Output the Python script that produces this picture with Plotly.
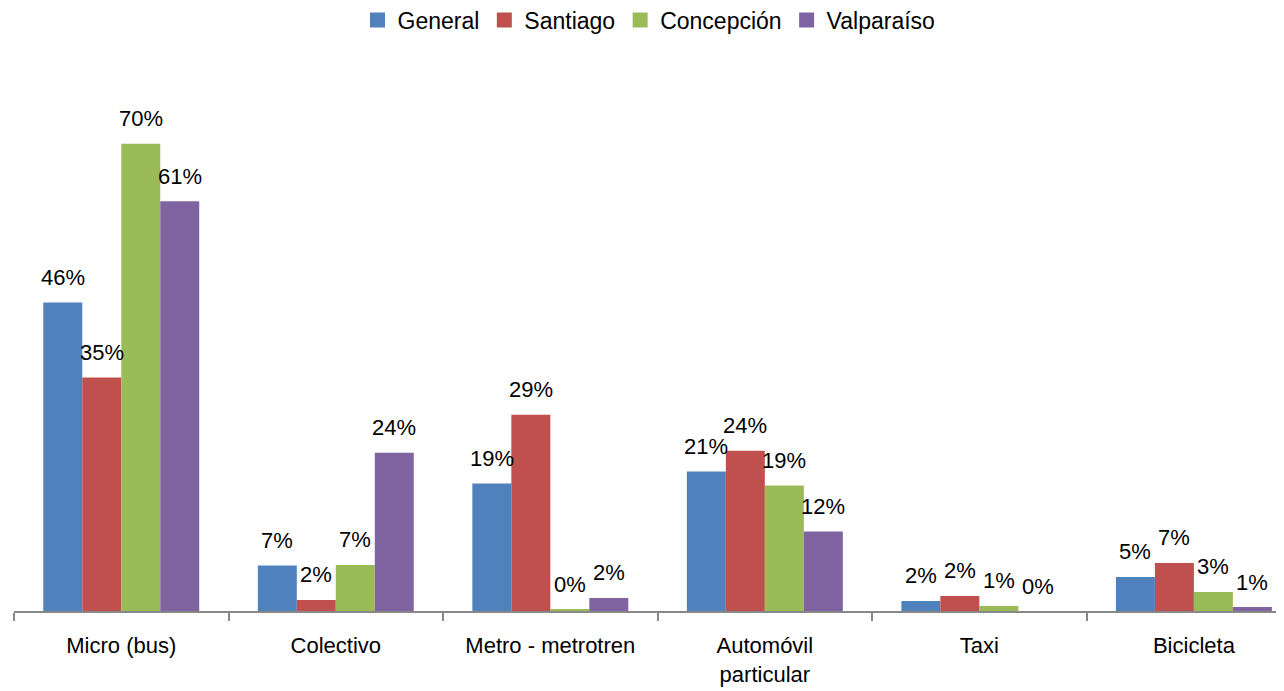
import plotly.graph_objects as go

categories = ["Micro (bus)", "Colectivo", "Metro - metrotren", "Automóvil<br>particular", "Taxi", "Bicicleta"]
series_names = ["General", "Santiago", "Concepción", "Valparaíso"]
general = [46.2, 6.8, 19.1, 20.9, 1.5, 5.1]
santiago = [35.0, 1.65, 29.4, 24.0, 2.25, 7.2]
concepcion = [70.0, 6.9, 0.3, 18.8, 0.75, 2.85]
valparaiso = [61.4, 23.7, 1.95, 11.9, 0.0, 0.6]
colors = ["#4F81BD", "#C0504D", "#9BBB59", "#8064A2"]

FONT = "Liberation Sans"
W, H = 1284, 691
ML, MR, MT, MB = 6, 8, 69, 88
XRANGE = [-0.5, 5.42]
BARGAP = 0.273

plot_w = W - ML - MR
cat_px = plot_w / (XRANGE[1] - XRANGE[0])
bar_px = cat_px * (1 - BARGAP) / len(series_names)

all_series = [general, santiago, concepcion, valparaiso]
fig = go.Figure()
annotations = []
for i, (name, vals, col) in enumerate(zip(series_names, all_series, colors)):
    fig.add_trace(go.Bar(
        name=name, x=categories, y=vals,
        marker=dict(color=col, line=dict(width=0)),
        showlegend=False, hoverinfo="x+y",
    ))
    fig.add_trace(go.Scatter(
        name=name, x=[None], y=[None], mode="markers",
        marker=dict(symbol="square", size=15, color=col), showlegend=True,
    ))
    offset = (i - (len(series_names) - 1) / 2) * bar_px
    for c, v in zip(categories, vals):
        annotations.append(dict(
            x=c, y=v, xref="x", yref="y", text=f"{v:.0f}%", showarrow=False,
            xshift=offset, yshift=25, yanchor="middle", xanchor="center",
            font=dict(family=FONT, size=22, color="#000000"),
        ))

fig.update_layout(
    width=W, height=H,
    paper_bgcolor="white", plot_bgcolor="white",
    margin=dict(l=ML, r=MR, t=MT, b=MB, autoexpand=False),
    barmode="group", bargap=BARGAP, bargroupgap=0,
    font=dict(family=FONT, size=22, color="#000000"),
    annotations=annotations,
    legend=dict(orientation="h", x=0.5, xanchor="center", y=1.147, yanchor="top",
                font=dict(family=FONT, size=23),
                itemwidth=30, traceorder="normal"),
    xaxis=dict(range=XRANGE, showline=True, linecolor="#888888", linewidth=1.5,
               ticks="outside", tickson="boundaries", ticklen=8, tickcolor="#888888",
               tickwidth=1.5, showgrid=False, tickfont=dict(family=FONT, size=22),
               ticklabelstandoff=14),
    yaxis=dict(range=[0, 80], visible=False, showgrid=False, zeroline=False),
)

fig.write_html("out.html")
